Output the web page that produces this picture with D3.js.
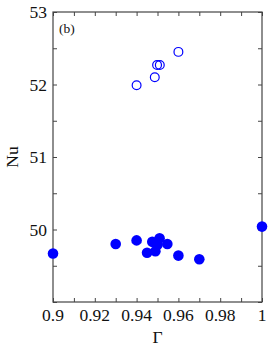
<html>
<head>
<script src="https://d3js.org/d3.v7.min.js"></script>
<style>
  body { margin: 0; background: #fff; }
  text { font-family: "Liberation Serif", "DejaVu Serif", serif; fill: #111; }
</style>
</head>
<body>
<svg id="chart" width="273" height="349"></svg>
<script>
// open circles (upper group)
var openGamma = [0.94, 0.9487, 0.9498, 0.9511, 0.960];
var openNu    = [51.99, 52.10, 52.27, 52.27, 52.45];

// filled circles (lower group)
var fillGamma = [0.90, 0.93, 0.94, 0.945, 0.9475, 0.949, 0.950, 0.951, 0.9547, 0.96, 0.97, 1.0];
var fillNu    = [49.67, 49.80, 49.85, 49.68, 49.83, 49.70, 49.79, 49.88, 49.80, 49.64, 49.59, 50.04];

var xTickLabels = [0.9, 0.92, 0.94, 0.96, 0.98, 1];
var yTickLabels = [50, 51, 52, 53];

var plotL = 53, plotR = 262, plotT = 12, plotB = 302;

var svg = d3.select("#chart");

var x = d3.scaleLinear().domain([0.9, 1]).range([plotL, plotR]);
var y = d3.scaleLinear().domain([49, 53]).range([plotB, plotT]);

var xMinor = d3.range(0, 11).map(function(i) { return 0.9 + i * 0.01; });
var yMinor = d3.range(0, 9).map(function(i) { return 49 + i * 0.5; });

var axisColor = "#444";
var tl = 4;

function tidy(g) {
  g.select(".domain").remove();
  g.selectAll("line").attr("stroke", axisColor);
}

// ticks pointing inward, on all four sides
svg.append("g").attr("transform", "translate(0," + plotB + ")")
  .call(d3.axisBottom(x).tickValues(xMinor).tickSize(-tl).tickFormat("")).call(tidy);
svg.append("g").attr("transform", "translate(0," + plotT + ")")
  .call(d3.axisTop(x).tickValues(xMinor).tickSize(-tl).tickFormat("")).call(tidy);
svg.append("g").attr("transform", "translate(" + plotL + ",0)")
  .call(d3.axisLeft(y).tickValues(yMinor).tickSize(-tl).tickFormat("")).call(tidy);
svg.append("g").attr("transform", "translate(" + plotR + ",0)")
  .call(d3.axisRight(y).tickValues(yMinor).tickSize(-tl).tickFormat("")).call(tidy);

// frame
svg.append("rect")
  .attr("x", plotL).attr("y", plotT)
  .attr("width", plotR - plotL).attr("height", plotB - plotT)
  .attr("fill", "none").attr("stroke", axisColor).attr("stroke-width", 1.2);

// tick labels
svg.append("g").selectAll("text").data(xTickLabels).enter().append("text")
  .attr("x", function(d) { return x(d); })
  .attr("y", 321)
  .attr("text-anchor", "middle")
  .attr("font-size", 17.5)
  .text(function(d) { return d; });

svg.append("g").selectAll("text").data(yTickLabels).enter().append("text")
  .attr("x", 47)
  .attr("y", function(d) { return y(d) + 6; })
  .attr("text-anchor", "end")
  .attr("font-size", 17.5)
  .text(function(d) { return d; });

// axis titles
svg.append("text")
  .attr("x", (plotL + plotR) / 2).attr("y", 343)
  .attr("text-anchor", "middle")
  .attr("font-size", 17.5)
  .text("Γ");

svg.append("text")
  .attr("transform", "translate(18," + ((plotT + plotB) / 2) + ") rotate(-90)")
  .attr("text-anchor", "middle")
  .attr("font-size", 17.5)
  .text("Nu");

svg.append("text")
  .attr("x", 59).attr("y", 33)
  .attr("font-size", 13.5)
  .text("(b)");

// points
var openData = openGamma.map(function(g, i) { return { g: g, nu: openNu[i] }; });
var fillData = fillGamma.map(function(g, i) { return { g: g, nu: fillNu[i] }; });

svg.append("g").selectAll("circle").data(openData).enter().append("circle")
  .attr("cx", function(d) { return x(d.g); })
  .attr("cy", function(d) { return y(d.nu); })
  .attr("r", 4.4)
  .attr("fill", "none")
  .attr("stroke", "#0000ff")
  .attr("stroke-width", 1.2);

svg.append("g").selectAll("circle").data(fillData).enter().append("circle")
  .attr("cx", function(d) { return x(d.g); })
  .attr("cy", function(d) { return y(d.nu); })
  .attr("r", 5.3)
  .attr("fill", "#0000ff");
</script>
</body>
</html>
